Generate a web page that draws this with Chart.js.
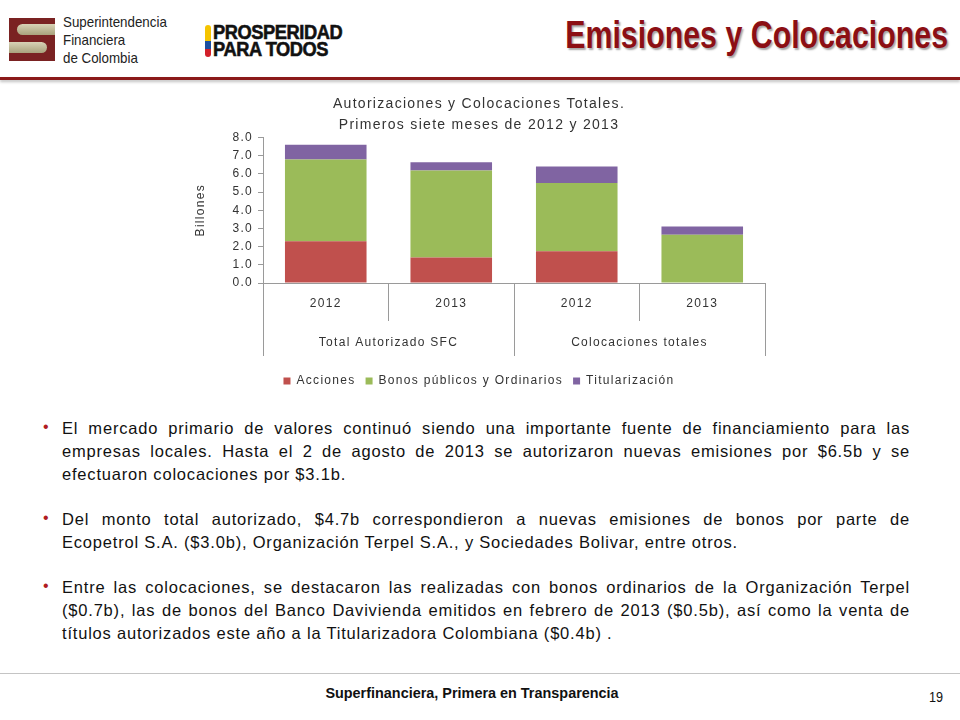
<!DOCTYPE html>
<html>
<head>
<meta charset="utf-8">
<script src="https://cdn.jsdelivr.net/npm/chart.js@4.4.0/dist/chart.umd.min.js"></script>
<style>
  html, body { margin: 0; padding: 0; background: #fff; }
  body { width: 960px; height: 720px; position: relative; overflow: hidden; font-family: "Liberation Sans", Arial, sans-serif; }
  .logo { position: absolute; left: 9px; top: 18px; width: 46px; height: 43px; background: #7a2222; overflow: hidden; }
  .logo .s1 { position: absolute; left: 8px; top: 6px; width: 40px; height: 11px; background: linear-gradient(#d8d3b6, #a9a27c); border-radius: 10px 0 0 10px; }
  .logo .s2 { position: absolute; left: -2px; top: 24px; width: 40px; height: 11px; background: linear-gradient(#d8d3b6, #a9a27c); border-radius: 0 10px 10px 0; }
  .sfc { position: absolute; left: 63px; top: 13px; font-size: 14.5px; line-height: 18px; color: #222; transform: scaleX(0.92); transform-origin: left top; }
  .pros { position: absolute; left: 213px; top: 23px; font-weight: bold; font-size: 21px; line-height: 17px; color: #111; letter-spacing: -0.5px; transform: scaleX(0.87); transform-origin: left top; -webkit-text-stroke: 0.6px #111; }
  .flag { position: absolute; left: 205px; top: 25px; width: 6px; height: 32px; border-radius: 3px; background: linear-gradient(#f5c400 0 50%, #1b4fa0 50% 75%, #d21f2a 75% 100%); }
  .title { position: absolute; right: 12px; top: 13px; font-weight: bold; font-size: 39px; color: #8c0f14; text-shadow: 2px 2px 2px rgba(0,0,0,0.35); transform: scaleX(0.778); transform-origin: right top; white-space: nowrap; }
  .rule { position: absolute; left: 0; top: 77px; width: 960px; height: 3px; background: #8b1a1a; box-shadow: 0 2px 3px rgba(0,0,0,0.25); }
  #wrap { position: absolute; left: 185px; top: 92px; width: 590px; height: 305px; }
  .bullets { position: absolute; left: 62px; top: 417px; width: 848px; font-size: 16.5px; line-height: 23px; letter-spacing: 0.8px; color: #111; }
  .bullets p { margin: 0 0 22px 0; position: relative; }
  .bullets p::before { content: "\2022"; color: #b01c22; position: absolute; left: -19px; top: -2px; font-size: 16px; letter-spacing: 0; }
  .bullets .l { display: block; text-align: justify; text-align-last: justify; white-space: nowrap; }
  .bullets .e { display: block; white-space: nowrap; }
  .foot { position: absolute; left: 0; top: 673px; width: 960px; height: 1px; background: #c4c4c4; }
  .foottxt { position: absolute; left: 0; width: 944px; top: 684px; text-align: center; font-weight: bold; font-size: 15.5px; color: #111; transform: scaleX(0.93); transform-origin: 472px 0; }
  .page { position: absolute; left: 929px; top: 689px; font-size: 14px; color: #111; transform: scaleX(0.9); transform-origin: left top; }
</style>
</head>
<body>
<div class="logo"><div class="s1"></div><div class="s2"></div></div>
<div class="sfc">Superintendencia<br>Financiera<br>de Colombia</div>
<div class="flag"></div>
<div class="pros">PROSPERIDAD<br>PARA TODOS</div>
<div class="title">Emisiones y Colocaciones</div>
<div class="rule"></div>

<div id="wrap"><canvas id="chart"></canvas></div>

<div class="bullets">
  <p><span class="l">El mercado primario de valores continuó siendo una importante fuente de financiamiento para las</span><span class="l">empresas locales. Hasta el 2 de agosto de 2013 se autorizaron nuevas emisiones por $6.5b y se</span><span class="e">efectuaron colocaciones por $3.1b.</span></p>
  <p><span class="l">Del monto total autorizado, $4.7b correspondieron a nuevas emisiones de bonos por parte de</span><span class="e">Ecopetrol S.A. ($3.0b), Organización Terpel S.A., y Sociedades Bolivar, entre otros.</span></p>
  <p><span class="l">Entre las colocaciones, se destacaron las realizadas con bonos ordinarios de la Organización Terpel</span><span class="l">($0.7b), las de bonos del Banco Davivienda emitidos en febrero de 2013 ($0.5b), así como la venta de</span><span class="e">títulos autorizados este año a la Titularizadora Colombiana ($0.4b) .</span></p>
</div>

<div class="foot"></div>
<div class="foottxt">Superfinanciera, Primera en Transparencia</div>
<div class="page">19</div>

<script>
// data (billones de pesos)
const years = ['2012', '2013', '2012', '2013'];
const groups = ['Total Autorizado SFC', 'Colocaciones totales'];
const acciones = [2.3, 1.4, 1.75, 0];
const bonos = [4.48, 4.78, 3.75, 2.65];
const titularizacion = [0.82, 0.45, 0.9, 0.45];
const yTicks = [0, 1, 2, 3, 4, 5, 6, 7, 8];

const axisGrey = '#9a9a9a';
const textGrey = '#333333';
Chart.defaults.font.family = '"Liberation Sans", Arial, sans-serif';
Chart.defaults.font.size = 12;
Chart.defaults.color = textGrey;

// the original Excel chart text is spaced out a bit
const spacing = {
    id: 'spacing',
    beforeLayout: (chart) => { chart.ctx.letterSpacing = '1.3px'; },
    beforeDraw: (chart) => { chart.ctx.letterSpacing = '1.3px'; }
};

new Chart(document.getElementById('chart'), {
    type: 'bar',
    data: {
        labels: years,
        datasets: [
            { label: 'Acciones', data: acciones, backgroundColor: '#c0504d' },
            { label: 'Bonos públicos y Ordinarios', data: bonos, backgroundColor: '#9bbb59' },
            { label: 'Titularización', data: titularizacion, backgroundColor: '#8064a2' }
        ]
    },
    plugins: [spacing],
    options: {
        responsive: true,
        maintainAspectRatio: false,
        animation: false,
        datasets: { bar: { categoryPercentage: 1, barPercentage: 0.65 } },
        layout: { padding: { left: 8, right: 10, top: 0, bottom: 0 } },
        scales: {
            x: {
                stacked: true,
                grid: { offset: true, drawOnChartArea: false, tickLength: 38, color: axisGrey },
                border: { color: axisGrey },
                ticks: { padding: -25, color: textGrey, maxRotation: 0 },
                afterFit: (scale) => { scale.height = 38; }
            },
            x2: {
                type: 'category',
                labels: groups,
                position: 'bottom',
                offset: true,
                grid: { offset: true, drawOnChartArea: false, tickLength: 35, color: axisGrey },
                border: { display: false },
                ticks: { padding: -21, color: textGrey, maxRotation: 0 },
                afterFit: (scale) => { scale.height = 44; }
            },
            y: {
                stacked: true,
                min: 0,
                max: 8,
                afterBuildTicks: (scale) => { scale.ticks = yTicks.map(v => ({ value: v })); },
                afterFit: (scale) => { scale.width = 70; },
                grid: { drawOnChartArea: false, tickLength: 5, color: axisGrey },
                border: { color: axisGrey },
                ticks: { padding: 5, color: textGrey, callback: (v) => v.toFixed(1) },
                title: { display: true, text: 'Billones', color: textGrey, font: { size: 12 }, padding: { top: 0, bottom: 6 } }
            }
        },
        plugins: {
            title: {
                display: true,
                text: ['Autorizaciones y Colocaciones Totales.', 'Primeros siete meses de 2012 y 2013'],
                color: textGrey,
                font: { size: 14, weight: 'normal', lineHeight: 1.55 },
                padding: { top: 1, bottom: 1 }
            },
            legend: {
                position: 'bottom',
                labels: { boxWidth: 7, boxHeight: 7, padding: 10, color: textGrey, font: { size: 12 } }
            },
            tooltip: { enabled: false }
        }
    }
});
</script>
</body>
</html>
